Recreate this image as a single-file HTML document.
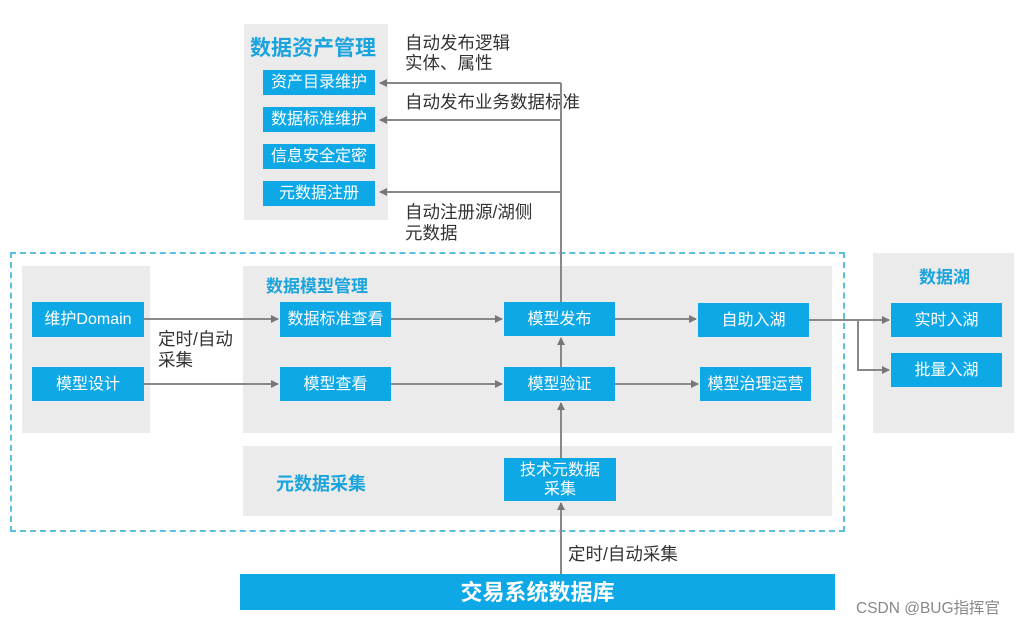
<!DOCTYPE html>
<html><head><meta charset="utf-8"><style>
body{margin:0;width:1025px;height:629px;background:#fff;position:relative;overflow:hidden;font-family:"Liberation Sans","Noto Sans CJK SC",sans-serif}
.p{position:absolute;background:#ebebeb}
.b{position:absolute;background:#0ea8e6;color:#fff;font-size:16px;display:flex;align-items:center;justify-content:center;text-align:center;line-height:19px;white-space:nowrap}
.t{position:absolute;color:#333;font-size:17.5px;line-height:21px;white-space:nowrap}
.h{position:absolute;color:#1aa3dc;font-weight:bold;white-space:nowrap}
svg{position:absolute;left:0;top:0}
</style></head><body>
<div class="p" style="left:244px;top:24px;width:144px;height:196px"></div>
<div class="p" style="left:22px;top:266px;width:128px;height:167px"></div>
<div class="p" style="left:243px;top:266px;width:589px;height:167px"></div>
<div class="p" style="left:243px;top:446px;width:589px;height:70px"></div>
<div class="p" style="left:873px;top:253px;width:141px;height:180px"></div>
<div style="position:absolute;left:10px;top:252px;width:831px;height:276px;border:2px dashed #5bc0e0"></div>

<div class="h" style="left:250px;top:32px;font-size:21px">数据资产管理</div>
<div class="b" style="left:263px;top:70px;width:112px;height:25px">资产目录维护</div>
<div class="b" style="left:263px;top:107px;width:112px;height:25px">数据标准维护</div>
<div class="b" style="left:263px;top:144px;width:112px;height:25px">信息安全定密</div>
<div class="b" style="left:263px;top:181px;width:112px;height:25px">元数据注册</div>
<div class="t" style="left:405px;top:33px">自动发布逻辑</div>
<div class="t" style="left:405px;top:53px">实体、属性</div>
<div class="t" style="left:405px;top:92px">自动发布业务数据标准</div>
<div class="t" style="left:405px;top:202px">自动注册源/湖侧</div>
<div class="t" style="left:405px;top:223px">元数据</div>

<div class="b" style="left:32px;top:302px;width:112px;height:35px">维护Domain</div>
<div class="b" style="left:32px;top:367px;width:112px;height:34px">模型设计</div>
<div class="t" style="left:158px;top:329px">定时/自动</div>
<div class="t" style="left:158px;top:350px">采集</div>

<div class="h" style="left:266px;top:272px;font-size:17px">数据模型管理</div>
<div class="b" style="left:280px;top:302px;width:111px;height:35px">数据标准查看</div>
<div class="b" style="left:280px;top:367px;width:111px;height:34px">模型查看</div>
<div class="b" style="left:504px;top:302px;width:111px;height:34px">模型发布</div>
<div class="b" style="left:504px;top:367px;width:111px;height:34px">模型验证</div>
<div class="b" style="left:698px;top:303px;width:111px;height:34px">自助入湖</div>
<div class="b" style="left:700px;top:367px;width:111px;height:34px">模型治理运营</div>
<div class="h" style="left:276px;top:470px;font-size:18px">元数据采集</div>
<div class="b" style="left:504px;top:458px;width:112px;height:43px">技术元数据<br>采集</div>

<div class="h" style="left:919px;top:263px;font-size:17px">数据湖</div>
<div class="b" style="left:891px;top:303px;width:111px;height:34px">实时入湖</div>
<div class="b" style="left:891px;top:353px;width:111px;height:34px">批量入湖</div>

<div class="b" style="left:240px;top:574px;width:595px;height:36px;font-size:22px;font-weight:bold">交易系统数据库</div>
<div class="t" style="left:568px;top:544px">定时/自动采集</div>
<div class="t" style="left:856px;top:598px;color:#888;font-size:15.5px">CSDN @BUG指挥官</div>

<svg width="1025" height="629">
<defs><marker id="a" markerWidth="8" markerHeight="8" refX="7" refY="4" orient="auto" markerUnits="userSpaceOnUse"><path d="M0,0L8,4L0,8z" fill="#777"/></marker></defs>
<g stroke="#888" stroke-width="2" fill="none">
<path d="M561 302V83"/>
<path d="M561 83H380" marker-end="url(#a)"/>
<path d="M561 120H380" marker-end="url(#a)"/>
<path d="M561 192H380" marker-end="url(#a)"/>
<path d="M144 319H278" marker-end="url(#a)"/>
<path d="M144 384H278" marker-end="url(#a)"/>
<path d="M391 319H502" marker-end="url(#a)"/>
<path d="M391 384H502" marker-end="url(#a)"/>
<path d="M615 319H696" marker-end="url(#a)"/>
<path d="M615 384H698" marker-end="url(#a)"/>
<path d="M809 320H889" marker-end="url(#a)"/>
<path d="M858 320V370H889" marker-end="url(#a)"/>
<path d="M561 367V338" marker-end="url(#a)"/>
<path d="M561 458V403" marker-end="url(#a)"/>
<path d="M561 574V503" marker-end="url(#a)"/>
</g></svg>
</body></html>
